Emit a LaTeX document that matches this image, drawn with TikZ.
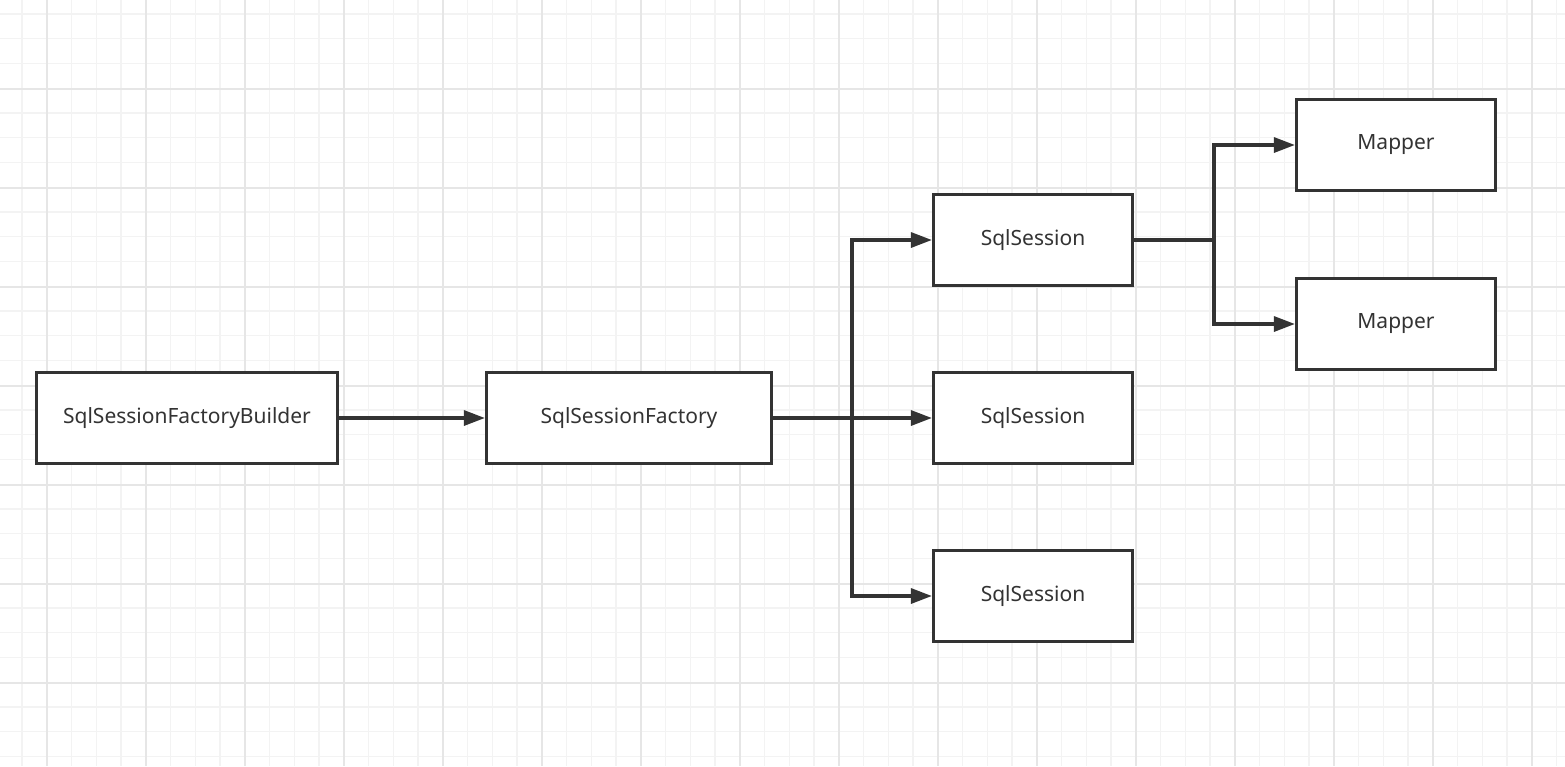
\documentclass[tikz,border=0pt]{standalone}
\usepackage{fontspec}
\setmainfont{Noto Sans}
\usetikzlibrary{arrows.meta}
\definecolor{ink}{HTML}{333333}
\definecolor{gridminor}{HTML}{F3F3F3}
\definecolor{gridmajor}{HTML}{E6E6E6}
\tikzset{
  minorline/.style={draw=gridminor,line width=1.3pt},
  majorline/.style={draw=gridmajor,line width=1.6pt},
  box/.style={draw=ink,line width=3.2pt,fill=white,inner sep=0pt,minimum height=91pt,text=ink,font=\fontsize{21}{25}\selectfont},
  conn/.style={draw=ink,line width=3.2pt},
  arr/.style={conn,-{Triangle[length=21pt,width=15pt]}}
}
\begin{document}
\begin{tikzpicture}[x=1pt,y=-1pt]
\useasboundingbox (0,0) rectangle (1565,766);
\fill[white] (0,0) rectangle (1565,766);
\foreach \i in {0,...,63} \draw[minorline] ({22+24.75*\i},0) -- ++(0,766);
\foreach \i in {0,...,31} \draw[minorline] (0,{14+24.75*\i}) -- ++(1565,0);
\foreach \i in {0,...,15} \draw[majorline] ({46.75+99*\i},0) -- ++(0,766);
\foreach \i in {0,...,7} \draw[majorline] (0,{89+99*\i}) -- ++(1565,0);

\node[box,minimum width=301pt] (bld) at (187,418) {SqlSessionFactoryBuilder};
\node[box,minimum width=285pt] (fac) at (629,418) {SqlSessionFactory};
\node[box,minimum width=199pt] (s1) at (1033,240) {SqlSession};
\node[box,minimum width=199pt] (s2) at (1033,418) {SqlSession};
\node[box,minimum width=199pt] (s3) at (1033,596) {SqlSession};
\node[box,minimum width=199pt] (m1) at (1396,145) {Mapper};
\node[box,minimum width=199pt] (m2) at (1396,324) {Mapper};

\coordinate (j1) at (852,418);
\coordinate (j2) at (1214,240);

\draw[arr] (bld) -- (fac);
\draw[arr] (fac) -- (s2);
\draw[arr] (j1) |- (s1.west);
\draw[arr] (j1) |- (s3.west);
\draw[conn] (s1.east) -- (j2);
\draw[arr] (j2) |- (m1.west);
\draw[arr] (j2) |- (m2.west);
\end{tikzpicture}
\end{document}
